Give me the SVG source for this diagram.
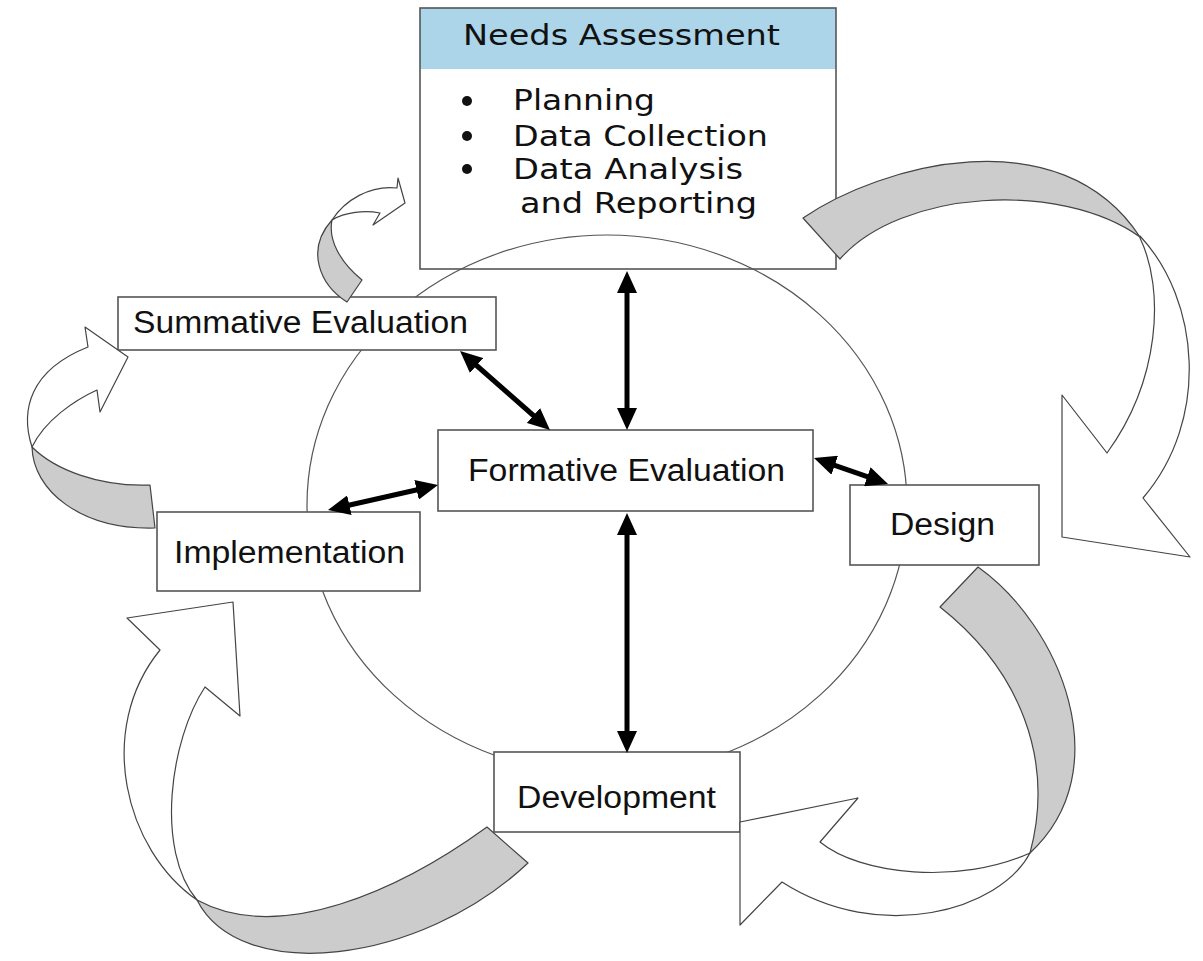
<svg xmlns="http://www.w3.org/2000/svg" width="1203" height="961" viewBox="0 0 1203 961">
<style>
.box{fill:#fff;stroke:#555;stroke-width:1.6}
.lbl{font-family:"Liberation Sans",Arial,sans-serif;font-size:31px;fill:#111}
.vlbl{font-family:"DejaVu Sans",Verdana,sans-serif;font-size:28px;fill:#111}
.ring{fill:none;stroke:#555;stroke-width:1.2}
.band{fill:#cccccc;stroke:#444;stroke-width:1.2;stroke-linejoin:round}
.head{fill:#fff;stroke:#444;stroke-width:1.2;stroke-linejoin:round}
.conn{stroke:#000;stroke-width:5;fill:none;marker-start:url(#ah);marker-end:url(#ah)}
</style>
<defs>
<marker id="ah" viewBox="0 0 22 20" markerWidth="22" markerHeight="20" refX="3" refY="10" markerUnits="userSpaceOnUse" orient="auto-start-reverse">
<path d="M0,0 L22,10 L0,20 Z" fill="#000"/>
</marker>
</defs>
<rect width="1203" height="961" fill="#fff"/>
<ellipse class="ring" cx="607" cy="505" rx="300" ry="270"/>

<g id="needs-assessment">
<rect x="420" y="8" width="416" height="61" fill="#acd5ea"/>
<rect x="420" y="8" width="416" height="261" fill="none" stroke="#555" stroke-width="1.6"/>
<line x1="420" y1="69" x2="836" y2="69" stroke="#acd5ea" stroke-width="0"/>
<text class="vlbl" x="463" y="45" textLength="317" lengthAdjust="spacingAndGlyphs">Needs Assessment</text>
<circle cx="467" cy="101" r="5" fill="#111"/>
<circle cx="467" cy="136" r="5" fill="#111"/>
<circle cx="467" cy="169" r="5" fill="#111"/>
<text class="vlbl" x="513" y="110" textLength="142" lengthAdjust="spacingAndGlyphs">Planning</text>
<text class="vlbl" x="513" y="146" textLength="255" lengthAdjust="spacingAndGlyphs">Data Collection</text>
<text class="vlbl" x="513" y="179" textLength="230" lengthAdjust="spacingAndGlyphs">Data Analysis</text>
<text class="vlbl" x="520" y="213" textLength="237" lengthAdjust="spacingAndGlyphs">and Reporting</text>
</g>

<g id="summative-evaluation">
<rect class="box" x="118" y="297" width="378" height="53"/>
<text class="lbl" x="133" y="333" textLength="335" lengthAdjust="spacingAndGlyphs">Summative Evaluation</text>
</g>

<g id="formative-evaluation">
<rect class="box" x="438" y="430" width="375" height="81"/>
<text class="lbl" x="468" y="481" textLength="317" lengthAdjust="spacingAndGlyphs">Formative Evaluation</text>
</g>

<g id="implementation">
<rect class="box" x="157" y="512" width="263" height="79"/>
<text class="lbl" x="174" y="563" textLength="231" lengthAdjust="spacingAndGlyphs">Implementation</text>
</g>

<g id="design">
<rect class="box" x="850" y="485" width="189" height="80"/>
<text class="lbl" x="890" y="535" textLength="105" lengthAdjust="spacingAndGlyphs">Design</text>
</g>

<g id="development">
<rect class="box" x="494" y="752" width="246" height="80"/>
<text class="lbl" x="517" y="808" textLength="199" lengthAdjust="spacingAndGlyphs">Development</text>
</g>

<g id="cycle-arrows">
<!-- A: Needs -> Design -->
<path class="band" d="M803,218 C880,165 1060,115 1140,237 C1060,180 900,190 840,259 Z"/>
<path class="head" d="M1140,236 C1200,300 1210,420 1143,498 L1190,557 L1062,537 L1062,395 L1107,453 C1160,380 1165,290 1140,238 Z"/>
<!-- B: Design -> Development -->
<path class="band" d="M978,567 C1060,625 1120,770 1030,853 C1055,760 1020,670 940,607 Z"/>
<path class="head" d="M1030,853 C1000,910 880,945 782,882 L740,925 L740,822 L858,798 L820,842 C860,875 960,885 1030,853 Z"/>
<!-- C: Development -> Implementation -->
<path class="band" d="M487,827 C400,890 280,945 197,900 C240,985 420,965 528,863 Z"/>
<path class="head" d="M197,900 C125,850 95,730 160,650 L127,618 L233,602 L240,716 L205,687 C170,740 155,850 197,900 Z"/>
<!-- D: Implementation -> Summative -->
<path class="band" d="M150,485 C100,487 55,470 32,447 C33,490 80,530 155,528 Z"/>
<path class="head" d="M32,447 C20,410 30,370 88,347 L85,327 L128,357 L100,412 L97,390 C75,400 45,420 32,447 Z"/>
<!-- E: Summative -> Needs -->
<path class="band" d="M347,302 C320,285 305,250 332,220 C328,240 340,262 362,280 Z"/>
<path class="head" d="M332,220 C345,200 370,185 397,188 L398,178 L405,203 L373,225 L380,213 C365,210 345,212 332,220 Z"/>
</g>

<g id="connectors">
<line class="conn" x1="627" y1="290" x2="627" y2="411"/>
<line class="conn" x1="627" y1="532" x2="627" y2="734"/>
<line class="conn" x1="474.3" y1="363.5" x2="535.7" y2="417.5"/>
<line class="conn" x1="346.5" y1="505.8" x2="419.5" y2="489.2"/>
<line class="conn" x1="831.9" y1="464.3" x2="870.1" y2="477.7"/>
</g>
</svg>
